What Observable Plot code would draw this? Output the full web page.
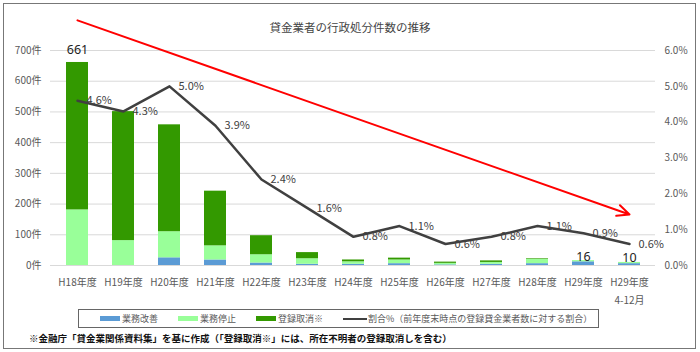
<!DOCTYPE html>
<html>
<head>
<meta charset="utf-8">
<script src="https://cdn.jsdelivr.net/npm/d3@7"></script>
<script src="https://cdn.jsdelivr.net/npm/@observablehq/plot@0.6"></script>
<style>
  body { margin: 0; background: #fff; font-family: "Noto Sans CJK JP", sans-serif; }
  #wrap { position: relative; width: 700px; height: 352px; overflow: hidden; background: #fff; }
  #frame { position: absolute; left: 3px; top: 3px; width: 693px; height: 346px; border: 1px solid #777; box-sizing: border-box; }
  #title { position: absolute; top: 18px; left: 0; width: 700px; text-align: center; font-size: 11.5px; color: #444; line-height: 18px; }
  #chart { position: absolute; left: 0; top: 0; }
  #legend { position: absolute; left: 78px; top: 309px; height: 19px; border: 1px solid #666; box-sizing: border-box;
            display: flex; align-items: center; padding-left: 21px; padding-right: 6px; font-size: 9px; color: #595959; }
  #legend .item { display: flex; align-items: center; margin-right: 20px; white-space: nowrap; }
  #legend .item:last-child { margin-right: 0; }
  #legend .sw { width: 20px; height: 5px; margin-right: 2px; }
  #legend .ln { width: 24px; height: 2px; margin-right: 1px; }
  #caption { position: absolute; left: 29px; top: 331px; font-size: 9.5px; font-weight: bold; color: #111; line-height: 14px; white-space: nowrap; }
</style>
</head>
<body>
<div id="wrap">
  <div id="frame"></div>
  <div id="chart"></div>
  <div id="title"></div>
  <div id="legend"></div>
  <div id="caption"></div>
</div>
<script>
const titleText = "貸金業者の行政処分件数の推移";
const captionText = "※金融庁「貸金業関係資料集」を基に作成（「登録取消※」には、所在不明者の登録取消しを含む）";

const categories = ["H18年度","H19年度","H20年度","H21年度","H22年度","H23年度","H24年度","H25年度","H26年度","H27年度","H28年度","H29年度","H29年度\n4-12月"];
const kaizen    = [0, 0, 25, 18, 8, 4, 4, 6, 2, 4, 6, 12, 6];        // 業務改善
const teishi    = [181, 81, 85, 46, 27, 18, 8, 12, 5, 6, 14, 4, 4];  // 業務停止
const torikeshi = [480, 420, 348, 178, 62, 20, 6, 6, 4, 5, 2, 0, 0]; // 登録取消※
const ratio     = [4.6, 4.3, 5.0, 3.9, 2.4, 1.6, 0.8, 1.1, 0.6, 0.8, 1.1, 0.9, 0.6]; // 割合%

const seriesNames  = ["業務改善", "業務停止", "登録取消※"];
const seriesColors = ["#5B9BD5", "#99FF99", "#339900"];
const lineName  = "割合%（前年度末時点の登録貸金業者数に対する割合）";
const lineColor = "#404040";

const leftTicks  = [0, 100, 200, 300, 400, 500, 600, 700];
const rightTicks = [0, 1, 2, 3, 4, 5, 6];
const leftMax = 700, rightMax = 6;

const bigLabelCats   = ["H18年度"];
const bigLabelVals   = [661];
const smallLabelCats = ["H29年度", "H29年度\n4-12月"];
const smallLabelVals = [16, 10];

// decorative trend arrow (category, count) endpoints
const trendFrom = ["H18年度", 798];
const trendTo   = ["H29年度\n4-12月", 166];

// ---- build tables ----
const toLeft = r => r * leftMax / rightMax;
const seriesArrays = [kaizen, teishi, torikeshi];
const bars = [];
categories.forEach((c, i) => {
  seriesArrays.forEach((arr, s) => bars.push({cat: c, series: seriesNames[s], value: arr[i]}));
});
const linePts = categories.map((c, i) => ({cat: c, r: ratio[i], y: toLeft(ratio[i])}));
const bigLabels = bigLabelCats.map((c, i) => ({cat: c, v: bigLabelVals[i]}));
const smallLabels = smallLabelCats.map((c, i) => ({cat: c, v: smallLabelVals[i]}));
const trend = [{x1: trendFrom[0], y1: trendFrom[1], x2: trendTo[0], y2: trendTo[1]}];
const totalOf = cat => d3.sum(seriesArrays, a => a[categories.indexOf(cat)]);

const plot = Plot.plot({
  width: 700,
  height: 300,
  marginLeft: 50,
  marginRight: 45,
  marginTop: 50,
  marginBottom: 35,
  style: {fontFamily: '"Noto Sans CJK JP", sans-serif', fontSize: "10px", color: "#595959", background: "transparent", overflow: "visible"},
  x: {domain: categories, paddingInner: 0.53, paddingOuter: 0.265, label: null},
  y: {domain: [0, leftMax], label: null},
  color: {domain: seriesNames, range: seriesColors},
  marks: [
    Plot.gridY(leftTicks, {stroke: "#d9d9d9", strokeOpacity: 1, strokeWidth: 1}),
    Plot.barY(bars, {x: "cat", y: "value", fill: "series", order: seriesNames}),
    Plot.axisY(leftTicks, {tickSize: 0, tickPadding: 9, tickFormat: d => d + "件", fill: "#595959", fontSize: 10, label: null}),
    Plot.axisY(rightTicks.map(toLeft), {anchor: "right", tickSize: 0, tickPadding: 9, tickFormat: d => (d * rightMax / leftMax).toFixed(1) + "%", fill: "#595959", fontSize: 10, label: null}),
    Plot.axisX({tickSize: 0, tickPadding: 8, fill: "#595959", fontSize: 10, lineHeight: 1.8, label: null}),
    Plot.arrow(trend, {x1: "x1", y1: "y1", x2: "x2", y2: "y2", stroke: "#ff0000", strokeWidth: 2, headLength: 10, headAngle: 50}),
    Plot.line(linePts, {x: "cat", y: "y", stroke: lineColor, strokeWidth: 2.5}),
    Plot.text(linePts, {x: "cat", y: "y", text: d => d.r.toFixed(1) + "%", textAnchor: "start", dx: 9, fill: "#404040", fontSize: 11}),
    Plot.text(bigLabels, {x: "cat", y: d => totalOf(d.cat), text: "v", dy: -12, fill: "#222", fontSize: 12.5, fontFamily: '"Noto Sans", sans-serif'}),
    Plot.text(smallLabels, {x: "cat", y: d => totalOf(d.cat), text: "v", dy: -4, fill: "#222", fontSize: 12.5, fontFamily: '"Noto Sans", sans-serif'})
  ]
});
document.getElementById("chart").appendChild(plot);

document.getElementById("title").textContent = titleText;
document.getElementById("caption").textContent = captionText;

const legend = d3.select("#legend");
seriesNames.forEach((n, i) => {
  const it = legend.append("div").attr("class", "item");
  it.append("div").attr("class", "sw").style("background", seriesColors[i]);
  it.append("span").text(n);
});
const li = legend.append("div").attr("class", "item");
li.append("div").attr("class", "ln").style("background", lineColor);
li.append("span").text(lineName);
</script>
</body>
</html>
